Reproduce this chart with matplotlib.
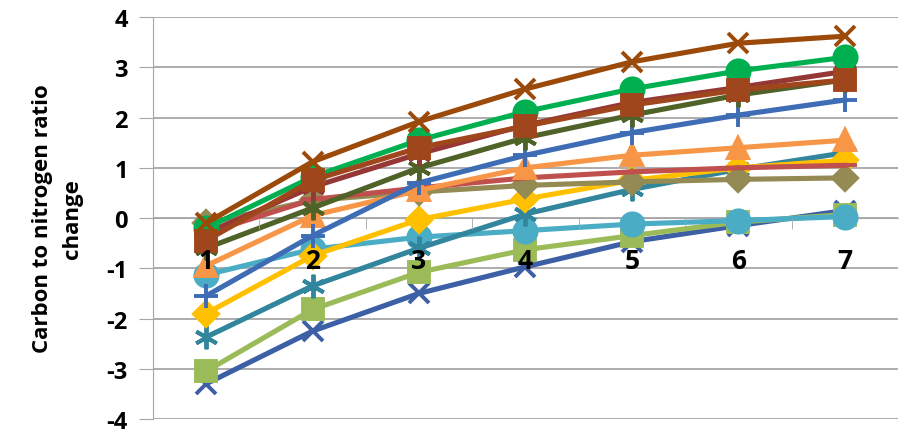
import numpy as np
import matplotlib.pyplot as plt

plt.rcParams['font.family'] = ['Open Sans', 'DejaVu Sans']
plt.rcParams['font.weight'] = 'bold'
plt.rcParams['axes.unicode_minus'] = False

# Categories on the x axis
steps = [1, 2, 3, 4, 5, 6, 7]

# Series values, drawn bottom layer first
s_darkblue_x = [-3.3, -2.25, -1.5, -0.97, -0.47, -0.15, 0.15]
s_lightgreen_sq = [-3.05, -1.82, -1.08, -0.63, -0.35, -0.08, 0.07]
s_lightblue_circ = [-1.13, -0.62, -0.38, -0.25, -0.12, -0.05, 0.03]
s_teal_star = [-2.37, -1.35, -0.6, 0.08, 0.57, 0.97, 1.3]
s_yellow_diam = [-1.9, -0.75, -0.03, 0.38, 0.75, 1.0, 1.15]
s_khaki_diam = [-0.1, 0.35, 0.52, 0.65, 0.72, 0.77, 0.8]
s_red_dash = [-0.3, 0.37, 0.6, 0.8, 0.92, 1.0, 1.05]
s_orange_tri = [-0.95, 0.05, 0.55, 1.0, 1.25, 1.4, 1.55]
s_blue_plus = [-1.55, -0.35, 0.7, 1.25, 1.7, 2.05, 2.35]
s_olive_star = [-0.6, 0.2, 1.0, 1.6, 2.05, 2.45, 2.75]
s_darkred_star = [-0.3, 0.62, 1.28, 1.85, 2.3, 2.6, 2.92]
s_green_circ = [-0.2, 0.82, 1.55, 2.12, 2.57, 2.93, 3.2]
s_brown_sq = [-0.45, 0.75, 1.4, 1.83, 2.25, 2.55, 2.75]
s_brown_x = [-0.1, 1.12, 1.92, 2.57, 3.11, 3.48, 3.62]

asterisk = (6, 2, 0)
series = [
    (s_darkblue_x, '#3C5FA5', 'x', 14),
    (s_lightgreen_sq, '#9BBB59', 's', 15),
    (s_lightblue_circ, '#4BACC6', 'o', 16),
    (s_teal_star, '#31859C', asterisk, 17),
    (s_yellow_diam, '#FFC000', 'D', 12),
    (s_khaki_diam, '#948A54', 'D', 12),
    (s_red_dash, '#C0504D', '_', 17),
    (s_orange_tri, '#F79646', '^', 15),
    (s_blue_plus, '#3E6DB5', '+', 17),
    (s_olive_star, '#4F6228', asterisk, 17),
    (s_darkred_star, '#953735', asterisk, 17),
    (s_green_circ, '#00B050', 'o', 16),
    (s_brown_sq, '#A0461C', 's', 15),
    (s_brown_x, '#9C4A0A', 'x', 15),
]

fig = plt.figure(figsize=(8.99, 4.31), dpi=100)
ax = fig.add_axes([0.170, 0.0255, 0.829, 0.9325])

for vals, col, mk, ms in series:
    ax.plot(steps, vals, color=col, lw=3.7, marker=mk, markersize=ms,
            markeredgewidth=2.8, markerfacecolor=col, markeredgecolor=col,
            clip_on=False, zorder=2)

ax.set_xlim(0.5, 7.5)
ax.set_ylim(-4, 4)
ax.set_yticks(np.arange(-4, 5, 1))
ax.yaxis.grid(True, color='#A6A6A6', lw=1.3)

ax.set_xticks(steps)
ax.set_xticklabels([str(s) for s in steps])
ax.set_xticks(np.arange(1.5, 7.5, 1), minor=True)
ax.tick_params(axis='x', which='major', length=0, pad=21, labelsize=19)
ax.tick_params(axis='x', which='minor', length=8, color='#A6A6A6', direction='out')
ax.tick_params(axis='y', length=10, color='#A6A6A6', labelsize=17, pad=8)

# gridlines below the series, category labels above them
ax.yaxis.set_zorder(0.5)
ax.xaxis.set_zorder(5)

for sp in ['top', 'right']:
    ax.spines[sp].set_visible(False)
ax.spines['bottom'].set_position(('data', 0))
ax.spines['bottom'].set_color('#A6A6A6')
ax.spines['bottom'].set_zorder(0.6)
ax.spines['left'].set_color('#A6A6A6')

ax.set_ylabel('Carbon to nitrogen ratio\nchange', fontsize=16, fontweight='bold',
              linespacing=1.55)
ax.yaxis.set_label_coords(-0.094, 0.5)

fig.savefig('out.png', dpi=100)
